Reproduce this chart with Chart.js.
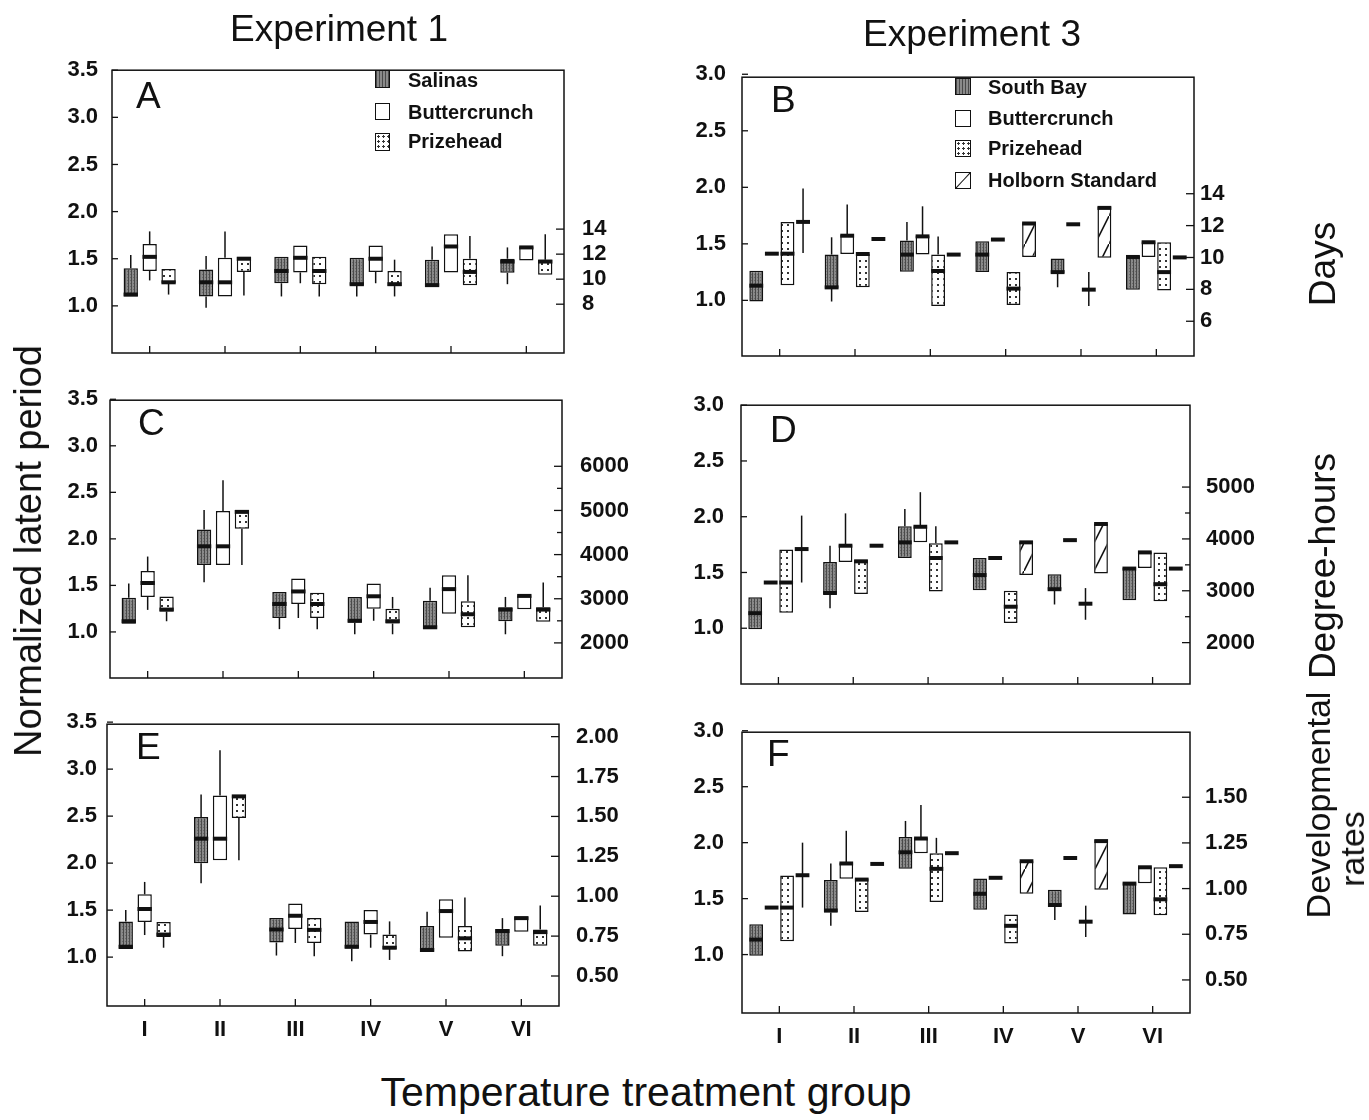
<!DOCTYPE html>
<html><head><meta charset="utf-8">
<script src="https://cdn.jsdelivr.net/npm/chart.js@4.4.1/dist/chart.umd.min.js"></script>
<style>
html,body{margin:0;padding:0;background:#fff;}
body{width:1369px;height:1120px;position:relative;overflow:hidden;font-family:"Liberation Sans",Arial,sans-serif;color:#111;}
.t{position:absolute;white-space:nowrap;line-height:1;}
.sw{position:absolute;box-sizing:border-box;border:1.5px solid #111;}
</style></head><body>
<script>
// ---------------- DATA ----------------
const groups = ['I','II','III','IV','V','VI'];
// each row: [boxLow, boxHigh, median, whiskerLow, whiskerHigh]  (null = no whisker)
// Panel A: Experiment 1, days
const aSalinas = [[1.10,1.40,1.12,null,1.54],[1.10,1.386,1.25,0.98,1.53],[1.24,1.52,1.37,1.10,null],[1.22,1.51,1.23,1.10,null],[1.21,1.49,1.22,null,1.63],[1.35,1.50,1.47,1.23,1.62]];
const aButter  = [[1.37,1.655,1.52,1.27,1.79],[1.10,1.51,1.25,null,1.79],[1.355,1.64,1.51,1.24,null],[1.36,1.64,1.50,1.24,null],[1.355,1.76,1.63,null,null],[1.48,1.63,1.62,null,null]];
const aPrize   = [[1.24,1.39,1.25,1.12,null],[1.36,1.52,1.50,1.11,null],[1.23,1.52,1.37,1.10,null],[1.21,1.37,1.23,1.10,1.49],[1.22,1.50,1.36,null,1.74],[1.33,1.49,1.47,null,1.76]];
// Panel C: Experiment 1, degree-hours
const cSalinas = [[1.087,1.366,1.115,null,1.52],[1.718,2.10,1.92,1.533,2.31],[1.15,1.43,1.30,1.03,null],[1.10,1.376,1.12,0.975,null],[1.045,1.334,1.05,null,1.474],[1.115,1.265,1.24,0.975,1.376]];
const cButter  = [[1.376,1.655,1.526,1.237,1.81],[1.718,2.30,1.92,null,2.63],[1.30,1.575,1.435,1.15,null],[1.25,1.52,1.383,1.12,null],[1.195,1.61,1.46,null,null],[1.244,1.394,1.387,null,null]];
const cPrize   = [[1.22,1.38,1.24,1.115,null],[2.11,2.31,2.29,1.72,null],[1.15,1.42,1.30,1.03,null],[1.09,1.25,1.115,0.975,1.376],[1.05,1.33,1.19,null,1.61],[1.11,1.265,1.24,null,1.53]];
// Panel E: Experiment 1, developmental rates
const eSalinas = [[1.087,1.38,1.11,null,1.50],[2.00,2.49,2.26,1.785,2.73],[1.156,1.415,1.294,1.017,null],[1.093,1.38,1.11,0.955,null],[1.06,1.33,1.076,null,1.484],[1.12,1.30,1.277,1.01,1.415]];
const eButter  = [[1.374,1.668,1.512,1.235,1.80],[2.03,2.72,2.26,null,3.20],[1.30,1.57,1.44,1.15,null],[1.24,1.50,1.374,1.10,null],[1.207,1.616,1.49,null,null],[1.27,1.432,1.415,null,null]];
const ePrize   = [[1.215,1.374,1.24,1.10,null],[2.48,2.72,2.71,2.03,null],[1.15,1.415,1.29,1.01,null],[1.087,1.24,1.10,0.97,1.38],[1.06,1.33,1.20,null,1.633],[1.12,1.294,1.266,null,1.55]];
// Panel B: Experiment 3, days
const bSouthBay = [[0.99,1.263,1.13,null,null],[1.104,1.405,1.115,0.99,1.558],[1.254,1.529,1.405,null,1.694],[1.25,1.523,1.405,null,null],[1.24,1.37,1.25,1.116,null],[1.095,1.393,1.384,null,null]];
const bButter   = [[1.413,1.413,1.413,null,null],[1.41,1.578,1.572,null,1.847],[1.405,1.572,1.566,null,1.832],[1.538,1.538,1.538,null,null],[1.673,1.673,1.673,null,null],[1.384,1.52,1.514,null,null]];
const bPrize    = [[1.133,1.694,1.413,null,null],[1.116,1.413,1.41,null,null],[0.95,1.405,1.26,null,1.566],[0.96,1.25,1.104,null,null],[1.095,1.095,1.095,0.95,1.25],[1.087,1.514,1.25,null,null]];
const bHolborn  = [[1.694,1.694,1.694,1.42,1.99],[1.543,1.543,1.543,null,null],[1.405,1.405,1.405,null,null],[1.384,1.688,1.68,null,null],[1.376,1.827,1.818,null,null],[1.38,1.38,1.38,null,null]];
// Panel D: Experiment 3, degree-hours
const dSouthBay = [[0.99,1.278,1.135,null,null],[1.307,1.594,1.316,1.18,1.74],[1.63,1.915,1.77,null,2.07],[1.34,1.63,1.477,null,null],[1.345,1.485,1.35,1.213,null],[1.25,1.54,1.535,null,null]];
const dButter   = [[1.41,1.41,1.41,null,null],[1.594,1.746,1.74,null,2.03],[1.77,1.915,1.91,null,2.22],[1.63,1.63,1.63,null,null],[1.79,1.79,1.79,null,null],[1.54,1.687,1.68,null,null]];
const dPrize    = [[1.14,1.705,1.41,null,null],[1.307,1.614,1.60,null,null],[1.33,1.763,1.63,null,1.915],[1.047,1.336,1.193,null,null],[1.22,1.22,1.22,1.076,1.36],[1.243,1.68,1.395,null,null]];
const dHolborn  = [[1.71,1.71,1.71,1.41,2.01],[1.74,1.74,1.74,null,null],[1.77,1.77,1.77,null,null],[1.477,1.775,1.77,null,null],[1.49,1.94,1.935,null,null],[1.535,1.535,1.535,null,null]];
// Panel F: Experiment 3, developmental rates
const fSouthBay = [[0.99,1.27,1.134,null,null],[1.377,1.666,1.394,1.257,1.814],[1.766,2.05,1.914,null,2.194],[1.40,1.68,1.543,null,null],[1.43,1.58,1.443,1.31,null],[1.357,1.643,1.634,null,null]];
const fButter   = [[1.42,1.42,1.42,null,null],[1.677,1.82,1.814,null,2.106],[1.906,2.043,2.037,null,2.337],[1.686,1.686,1.686,null,null],[1.863,1.863,1.863,null,null],[1.637,1.786,1.78,null,null]];
const fPrize    = [[1.12,1.706,1.42,null,null],[1.38,1.68,1.67,null,null],[1.47,1.906,1.766,null,2.043],[1.10,1.357,1.257,null,null],[1.294,1.294,1.294,1.157,1.437],[1.351,1.78,1.494,null,null]];
const fHolborn  = [[1.709,1.709,1.709,1.42,2.0],[1.81,1.81,1.81,null,null],[1.906,1.906,1.906,null,null],[1.543,1.837,1.834,null,null],[1.58,2.023,2.014,null,null],[1.79,1.79,1.79,null,null]];

// tick labels
const normTicks1 = [1.0,1.5,2.0,2.5,3.0,3.5];
const normTicks3 = [1.0,1.5,2.0,2.5,3.0];
const daysTicksA = [8,10,12,14];
const daysTicksB = [6,8,10,12,14];
const dhTicksC = [2000,2500,3000,3500,4000,4500,5000,5500,6000];
const dhMajorC = [2000,3000,4000,5000,6000];
const dhTicksD = [2000,2500,3000,3500,4000,4500,5000];
const dhMajorD = [2000,3000,4000,5000];
const rateTicksE = [0.50,0.75,1.00,1.25,1.50,1.75,2.00];
const rateTicksF = [0.50,0.75,1.00,1.25,1.50];

// ---------------- STYLES ----------------
function tile(w,h,draw){const c=document.createElement('canvas');c.width=w;c.height=h;const x=c.getContext('2d');draw(x);return x.createPattern(c,'repeat');}
const grayFill = tile(3,3,x=>{x.fillStyle='#8a8a8a';x.fillRect(0,0,3,3);x.fillStyle='#4a4a4a';x.fillRect(0,0,1,3);x.fillStyle='#6a6a6a';x.fillRect(2,1,1,1);});
const dotFill = tile(6,6,x=>{x.fillStyle='#fff';x.fillRect(0,0,6,6);x.fillStyle='#333';x.fillRect(2,2,2,2);});
const hatchFill = tile(14,28,x=>{x.fillStyle='#fff';x.fillRect(0,0,14,28);x.strokeStyle='#111';x.lineWidth=1.6;x.beginPath();x.moveTo(-1,30);x.lineTo(15,-2);x.stroke();});
const whiteFill = '#ffffff';

const FONT = {family:'"Liberation Sans", Arial, sans-serif', size:22, weight:'bold'};
const INK = '#111';

const boxPlugin = {
  id:'boxparts',
  afterDatasetsDraw(chart){
    const ctx = chart.ctx, a = chart.chartArea, ys = chart.scales.y;
    const line=(x1,y1,x2,y2)=>{ctx.beginPath();ctx.moveTo(x1,y1);ctx.lineTo(x2,y2);ctx.stroke();};
    ctx.save();
    ctx.strokeStyle = INK; ctx.lineCap='butt';
    chart.data.datasets.forEach((ds,di)=>{
      const meta = chart.getDatasetMeta(di);
      meta.data.forEach((bar,i)=>{
        const r = ds.rows[i];
        const x = bar.x, w = bar.width;
        ctx.lineWidth = 1.5;
        if (r[4]!=null) line(x, ys.getPixelForValue(r[1]), x, ys.getPixelForValue(r[4]));
        if (r[3]!=null) line(x, ys.getPixelForValue(r[0]), x, ys.getPixelForValue(r[3]));
        ctx.lineWidth = 4;
        const ym = ys.getPixelForValue(r[2]);
        line(x-w/2, ym, x+w/2, ym);
      });
    });
    // frame
    ctx.lineWidth = 1.5;
    ctx.strokeRect(a.left, a.top, a.right-a.left, a.bottom-a.top);
    // inward tick marks
    ctx.lineWidth = 1.3;
    ys.ticks.forEach(t=>{const py=ys.getPixelForValue(t.value); line(a.left,py,a.left+6,py);});
    const rs = chart.scales.y2;
    rs.ticks.forEach(t=>{const py=rs.getPixelForValue(t.value); const len=t.label?8:5; line(a.right-len,py,a.right,py);});
    const xs = chart.scales.x;
    xs.ticks.forEach((t,i)=>{const px=xs.getPixelForTick(i); line(px,a.bottom,px,a.bottom-7);});
    ctx.restore();
  }
};

function panel(p){
  const LW=95, RW=110, PT=24, BH=50;
  const w = Math.round(p.R - p.L + LW + RW), h = Math.round(p.B - p.T + PT + BH);
  const cv = document.createElement('canvas');
  cv.width = w; cv.height = h;
  cv.style.cssText = `position:absolute;left:${p.L-LW}px;top:${p.T-PT}px;width:${w}px;height:${h}px`;
  document.body.appendChild(cv);
  new Chart(cv,{
    type:'bar',
    data:{labels:groups, datasets:p.series.map(s=>({
      label:s.name, rows:s.rows, data:s.rows.map(r=>[r[0],r[1]]),
      backgroundColor:s.fill, borderColor:INK, borderWidth:1.5, borderSkipped:false,
      categoryPercentage:p.cat, barPercentage:p.bar
    }))},
    options:{
      responsive:false, animation:false, devicePixelRatio:1,
      layout:{padding:{top:PT,left:0,right:0,bottom:0}},
      plugins:{legend:{display:false},tooltip:{enabled:false}},
      scales:{
        x:{type:'category',offset:true,grid:{display:false,drawTicks:false},border:{display:false},
           ticks:{display:p.xLabels,font:FONT,color:INK,padding:11,autoSkip:false,maxRotation:0},
           afterFit:s=>{s.height=BH;}},
        y:{position:'left',min:p.yMin,max:p.yMax,grid:{display:false,drawTicks:false},border:{display:false},
           afterBuildTicks:s=>{s.ticks=p.yTicks.map(v=>({value:v}));},
           ticks:{font:FONT,color:INK,padding:p.lgap,autoSkip:false,callback:v=>Number(v).toFixed(1)},
           afterFit:s=>{s.width=LW;}},
        y2:{position:'right',min:p.rMin,max:p.rMax,grid:{display:false,drawTicks:false},border:{display:false},
           afterBuildTicks:s=>{s.ticks=p.rTicks.map(v=>({value:v}));},
           ticks:{font:FONT,color:INK,padding:p.rgap,autoSkip:false,callback:v=>(p.rMajor?p.rMajor.includes(v):true)?p.rFmt(v):''},
           afterFit:s=>{s.width=RW;}}
      }
    },
    plugins:[boxPlugin]
  });
}

const exp1 = (s,b,pz)=>[{name:'Salinas',rows:s,fill:grayFill},{name:'Buttercrunch',rows:b,fill:whiteFill},{name:'Prizehead',rows:pz,fill:dotFill}];
const exp3 = (s,b,pz,h)=>[{name:'South Bay',rows:s,fill:grayFill},{name:'Buttercrunch',rows:b,fill:whiteFill},{name:'Prizehead',rows:pz,fill:dotFill},{name:'Holborn Standard',rows:h,fill:hatchFill}];
const intF = v=>String(v), f2 = v=>Number(v).toFixed(2);

panel({L:112,R:564,T:63.3,B:353.3,yMin:0.5,yMax:3.5,yTicks:normTicks1,rMin:4.10,rMax:26.70,rTicks:daysTicksA,rFmt:intF,lgap:14,rgap:18,xLabels:false,cat:0.753,bar:0.757,series:exp1(aSalinas,aButter,aPrize)});
panel({L:110,R:562,T:393.3,B:678.3,yMin:0.505,yMax:3.49,yTicks:normTicks1,rMin:1205,rMax:7497,rTicks:dhTicksC,rMajor:dhMajorC,rFmt:intF,lgap:12,rgap:18,xLabels:false,cat:0.753,bar:0.757,series:exp1(cSalinas,cButter,cPrize)});
panel({L:107,R:558.6,T:718.3,B:1006.7,yMin:0.48,yMax:3.478,yTicks:normTicks1,rMin:0.312,rMax:2.078,rTicks:rateTicksE,rFmt:f2,lgap:10,rgap:17,xLabels:true,cat:0.753,bar:0.757,series:exp1(eSalinas,eButter,ePrize)});
panel({L:742,R:1194,T:71.7,B:356,yMin:0.508,yMax:2.974,yTicks:normTicks3,rMin:3.82,rMax:21.31,rTicks:daysTicksB,rFmt:intF,lgap:16,rgap:6,xLabels:false,cat:0.828,bar:0.89,series:exp3(bSouthBay,bButter,bPrize,bHolborn)});
panel({L:741,R:1190,T:399,B:684,yMin:0.5,yMax:3.0,yTicks:normTicks3,rMin:1202,rMax:6579,rTicks:dhTicksD,rMajor:dhMajorD,rFmt:intF,lgap:17,rgap:16,xLabels:false,cat:0.828,bar:0.89,series:exp3(dSouthBay,dButter,dPrize,dHolborn)});
panel({L:742,R:1190,T:725,B:1013.3,yMin:0.478,yMax:2.987,yTicks:normTicks3,rMin:0.319,rMax:1.856,rTicks:rateTicksF,rFmt:f2,lgap:18,rgap:15,xLabels:true,cat:0.828,bar:0.89,series:exp3(fSouthBay,fButter,fPrize,fHolborn)});

// ---------------- TEXT ----------------
function txt(s,x,y,size,opt={}){
  const d=document.createElement('div');d.className='t';d.textContent=s;
  d.style.fontSize=size+'px';d.style.fontWeight=opt.bold?'bold':'normal';
  d.style.left=x+'px';d.style.top=y+'px';
  let tr='';
  if(opt.center) tr+='translate(-50%,-50%) ';
  else if(opt.vmid) tr+='translateY(-50%) ';
  if(opt.rot) tr+='rotate(-90deg)';
  if(tr) d.style.transform=tr;
  document.body.appendChild(d);return d;
}
function letter(s,x,baseline){txt(s,x,baseline-0.8465*37,37);}
function swatch(x,y,w,h,bg){const d=document.createElement('div');d.className='sw';d.style.cssText+=`left:${x}px;top:${y}px;width:${w}px;height:${h}px;background:${bg};`;document.body.appendChild(d);}

txt('Experiment 1',339,28,37,{center:true});
txt('Experiment 3',972,33,37,{center:true});
txt('Normalized latent period',28,551,38,{center:true,rot:true});
txt('Temperature treatment group',646,1092,41,{center:true});
txt('Days',1322,264,37,{center:true,rot:true});
txt('Degree-hours',1322,566,37,{center:true,rot:true});
txt('Developmental',1318,805,34,{center:true,rot:true});
txt('rates',1352,849,34,{center:true,rot:true});

letter('A',136,108);letter('B',771,112);letter('C',138,435);
letter('D',770,442);letter('E',136,759);letter('F',767,766);

const GRAY='repeating-linear-gradient(90deg,#4a4a4a 0 1px,#8a8a8a 1px 3px)';
const DOTS='radial-gradient(circle,#333 0 1px,#fff 1.3px) 0 0/5px 5px,#fff';
const HATCH='linear-gradient(to bottom right,#fff calc(50% - 1px),#111 50%,#fff calc(50% + 1px))';
// legend A
swatch(375,70,15,18,GRAY);swatch(375,103,15,17,'#fff');swatch(375,133,15,18,DOTS);
txt('Salinas',408,80,20,{bold:true,vmid:true});
txt('Buttercrunch',408,112,20,{bold:true,vmid:true});
txt('Prizehead',408,141,20,{bold:true,vmid:true});
// legend B
swatch(955,78,16,17,GRAY);swatch(955,110,16,17,'#fff');swatch(955,140,16,17,DOTS);swatch(955,172,16,17,HATCH);
txt('South Bay',988,87,20,{bold:true,vmid:true});
txt('Buttercrunch',988,118,20,{bold:true,vmid:true});
txt('Prizehead',988,148,20,{bold:true,vmid:true});
txt('Holborn Standard',988,180,20,{bold:true,vmid:true});
</script>
</body></html>
